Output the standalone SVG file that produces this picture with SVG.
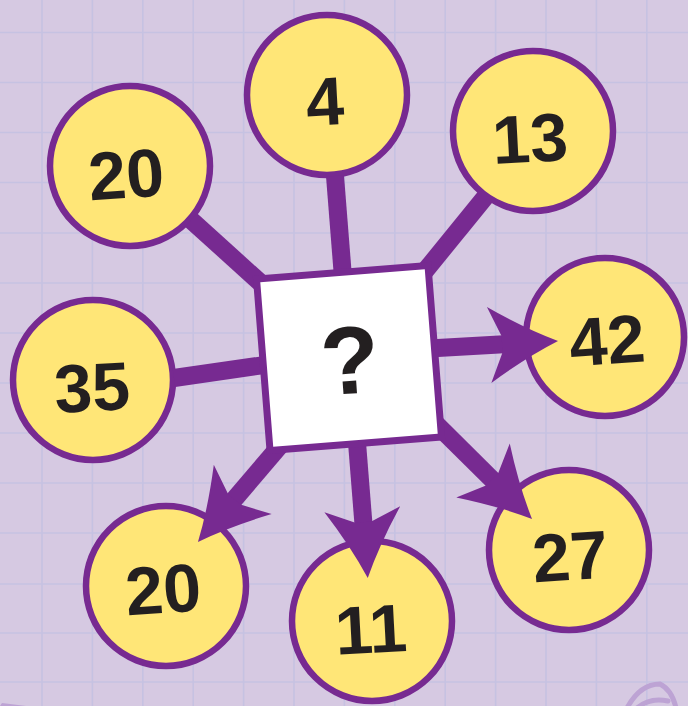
<svg xmlns="http://www.w3.org/2000/svg" width="688" height="706" viewBox="0 0 688 706">
<style>
.bg{fill:#D6C9E2}
.grid line{stroke:#C6C2E2;stroke-width:1.6}
.circ{fill:#FFE677;stroke:#772A91;stroke-width:6.5}
.num{font-family:"Liberation Sans","Open Sans",Arial,sans-serif;font-weight:700;font-size:68px;fill:#231F20;text-anchor:middle;dominant-baseline:central}
.conn{stroke:#772A91;stroke-width:18;fill:none;stroke-linecap:butt}
.deco{fill:none;stroke:#BDA3D4;stroke-width:5;stroke-linecap:round}
</style>
<defs>
<marker id="ah" markerUnits="userSpaceOnUse" markerWidth="100" markerHeight="100" viewBox="-80 -50 100 100" refX="-50" refY="0" orient="auto" overflow="visible">
<path d="M0,0 Q-32,-14 -69,-38 L-56,-8 L-56,8 L-69,38 Q-32,14 0,0 Z" fill="#772A91"/>
</marker>
</defs>
<rect class="bg" x="0" y="0" width="688" height="706"/>
<g class="grid">
<line x1="42" y1="0" x2="42" y2="706"/>
<line x1="92.4" y1="0" x2="92.4" y2="706"/>
<line x1="142.8" y1="0" x2="142.8" y2="706"/>
<line x1="193.2" y1="0" x2="193.2" y2="706"/>
<line x1="243.6" y1="0" x2="243.6" y2="706"/>
<line x1="294" y1="0" x2="294" y2="706"/>
<line x1="344.4" y1="0" x2="344.4" y2="706"/>
<line x1="394.8" y1="0" x2="394.8" y2="706"/>
<line x1="445.2" y1="0" x2="445.2" y2="706"/>
<line x1="495.6" y1="0" x2="495.6" y2="706"/>
<line x1="546" y1="0" x2="546" y2="706"/>
<line x1="596.4" y1="0" x2="596.4" y2="706"/>
<line x1="646.8" y1="0" x2="646.8" y2="706"/>
<line x1="0" y1="32.5" x2="688" y2="32.5"/>
<line x1="0" y1="82.5" x2="688" y2="82.5"/>
<line x1="0" y1="132.5" x2="688" y2="132.5"/>
<line x1="0" y1="182.5" x2="688" y2="182.5"/>
<line x1="0" y1="233" x2="688" y2="233"/>
<line x1="0" y1="283" x2="688" y2="283"/>
<line x1="0" y1="333" x2="688" y2="333"/>
<line x1="0" y1="383" x2="688" y2="383"/>
<line x1="0" y1="433" x2="688" y2="433"/>
<line x1="0" y1="483" x2="688" y2="483"/>
<line x1="0" y1="533" x2="688" y2="533"/>
<line x1="0" y1="584" x2="688" y2="584"/>
<line x1="0" y1="633" x2="688" y2="633"/>
<line x1="0" y1="682" x2="688" y2="682"/>
</g>
<path class="deco" d="M627,708 Q640,684 660,684 Q672,690 676,708"/>
<path class="deco" d="M637,708 Q650,697 668,701"/>
<polygon points="2,703 26,706 0,706" fill="#BDA3D4"/>

<g id="node-20-top">
<circle class="circ" cx="130" cy="166" r="80"/>
<text class="num" x="126" y="174" transform="rotate(-4 126 174)">20</text>
</g>
<g id="node-4">
<circle class="circ" cx="327" cy="95" r="80"/>
<text class="num" x="325" y="101" transform="rotate(-3 325 101)">4</text>
</g>
<g id="node-13">
<circle class="circ" cx="533" cy="131" r="80"/>
<text class="num" x="530" y="138" transform="rotate(-3 530 138)">13</text>
</g>
<g id="node-35">
<circle class="circ" cx="93" cy="380" r="80"/>
<text class="num" x="92" y="387" transform="rotate(-3 92 387)">35</text>
</g>
<g id="node-42">
<circle class="circ" cx="605" cy="337" r="79"/>
<text class="num" x="607" y="340" transform="rotate(-4 607 340)">42</text>
</g>
<g id="node-20-bottom">
<circle class="circ" cx="166" cy="586" r="80"/>
<text class="num" x="163" y="589" transform="rotate(-4 163 589)">20</text>
</g>
<g id="node-11">
<circle class="circ" cx="372" cy="621" r="80"/>
<text class="num" x="371" y="629" transform="rotate(-3 371 629)">11</text>
</g>
<g id="node-27">
<circle class="circ" cx="569" cy="550" r="80"/>
<text class="num" x="570" y="556" transform="rotate(-4 570 556)">27</text>
</g>

<g id="connectors">
<line class="conn" x1="191" y1="220" x2="285" y2="305"/>
<line class="conn" x1="335" y1="176" x2="344" y2="290"/>
<line class="conn" x1="486" y1="196" x2="412" y2="287"/>
<line class="conn" x1="174" y1="378" x2="285" y2="362"/>
<line class="conn" x1="420" y1="349" x2="508.1" y2="343.9" marker-end="url(#ah)"/>
<line class="conn" x1="356" y1="430" x2="363.8" y2="528.2" marker-end="url(#ah)"/>
<line class="conn" x1="425" y1="413" x2="496.5" y2="483.8" marker-end="url(#ah)"/>
<line class="conn" x1="290" y1="434" x2="230.4" y2="503.9" marker-end="url(#ah)"/>
</g>

<g id="node-center">
<rect x="263" y="272" width="172" height="172" fill="#FFFFFF" stroke="#772A91" stroke-width="7" transform="rotate(-4.5 349 358)"/>
<text class="num" x="350" y="360" style="font-size:96px" transform="rotate(-4 350 360)">?</text>
</g>
</svg>
